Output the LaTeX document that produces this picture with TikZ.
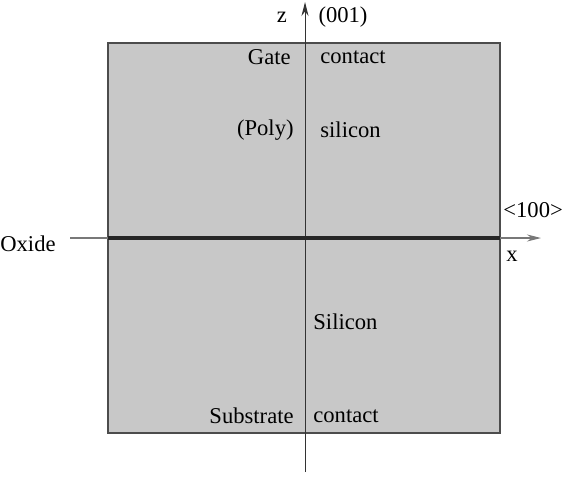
\documentclass[tikz,border=0pt]{standalone}
\usepackage{fontspec}
\setmainfont{Liberation Serif}
\usetikzlibrary{arrows.meta,positioning}
\definecolor{fillgray}{RGB}{200,200,200}
\definecolor{axisgray}{RGB}{120,120,120}
\tikzset{lbl/.style={font=\fontsize{11.3}{13}\selectfont,inner sep=0pt}}

\begin{document}
\begin{tikzpicture}[x=0.5pt,y=-0.5pt]
    \useasboundingbox (0,0) rectangle (566,477);
    % device
    \draw[draw=black!70,fill=fillgray,line width=0.6pt] (108,43) rectangle (500,433);
    % axes
    \coordinate (zbot) at (305,472); \coordinate (ztop) at (305,2);
    \coordinate (xleft) at (70,238); \coordinate (xright) at (541,238);
    \coordinate (oxl) at (108,238); \coordinate (oxr) at (500,238);
    \draw[-{Stealth[length=7pt,width=3.5pt]},black!80,line width=0.5pt] (zbot) -- (ztop);
    \draw[-{Stealth[length=7pt,width=3.5pt]},axisgray,line width=0.6pt] (xleft) -- (xright);
    \draw[black!85,line width=2pt] (oxl) -- (oxr);
    % labels
    \node[lbl] (zlab) at (282,17) {z};
    \node[lbl] (dir001) at (343,17) {(001)};
    \node[lbl,anchor=east] (gate) at (291,57) {Gate};
    \node[lbl,anchor=west] (gcont) at (320,57) {contact};
    \node[lbl,anchor=east] (poly) at (294,130) {(Poly)};
    \node[lbl,anchor=west] (psil) at (320,130) {silicon};
    \node[lbl,anchor=west] (dir100) at (503,210) {<100>};
    \node[lbl] (xlab) at (512,256) {x};
    \node[lbl,anchor=east] (oxide) at (56,244) {Oxide};
    \node[lbl,anchor=west] (sil) at (313,322) {Silicon};
    \node[lbl,anchor=east] (subs) at (294,416) {Substrate};
    \node[lbl,anchor=west] (scont) at (313,416) {contact};
\end{tikzpicture}
\end{document}
